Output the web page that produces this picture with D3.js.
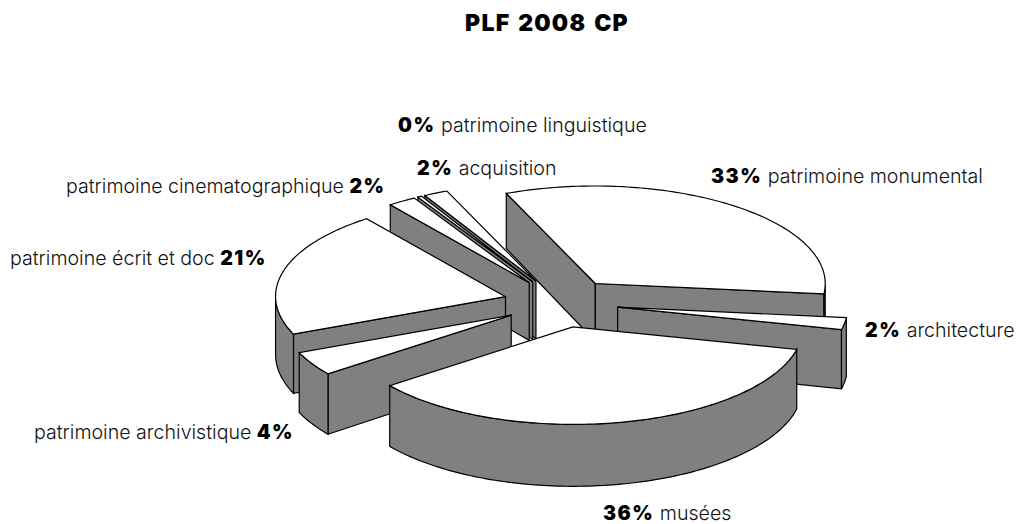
<!DOCTYPE html>
<html><head><meta charset="utf-8">
<script src="https://cdn.jsdelivr.net/npm/d3@7"></script>
<style>html,body{margin:0;background:#fff}svg{display:block}
text{font-family:Inter,sans-serif;font-weight:300;font-size:19.6px;fill:#111}
.b{font-family:Inter,sans-serif;font-weight:900;fill:#000;letter-spacing:1.5px}
</style></head><body><svg id="c" width="1020" height="524"></svg>
<script>
const titleText = "PLF 2008 CP";
const categories = ["patrimoine monumental","architecture","musées","patrimoine archivistique","patrimoine écrit et doc","patrimoine cinematographique","patrimoine linguistique","acquisition"];
const shares = [33,2,36,4,21,2,0.3,1.7];
const labelPos = [[711,183,"pf"],[865,337,"pf"],[603,520,"pf"],[34,439,"fp"],[10,265,"fp"],[66,193,"fp"],[398,132,"pf"],[417,175,"pf"]];

const svg = d3.select("#c");
const W="#fff", G="#808080", K="#000";
const P=[-89,-90], Q=[212,-37.5], C=[561,303], explode=0.25;
const dir=a=>[P[0]*Math.cos(a)+Q[0]*Math.sin(a), P[1]*Math.cos(a)+Q[1]*Math.sin(a)];
const depth=y=>55+0.03*(y-193);
const arcs=d3.pie().sort(null).value(d=>d).startAngle(0).endAngle(2*Math.PI)(shares);
const prisms=arcs.map(d=>{
  const m=dir((d.startAngle+d.endAngle)/2);
  const apex=[C[0]+explode*m[0],C[1]+explode*m[1]];
  const n=Math.max(2,Math.ceil((d.endAngle-d.startAngle)/0.02));
  const rim=d3.range(n+1).map(i=>{const a=d.startAngle+(d.endAngle-d.startAngle)*i/n,v=dir(a);return [apex[0]+v[0],apex[1]+v[1]];});
  return {apex,rim,my:m[1]};
}).sort((a,b)=>a.my-b.my);
const line=d3.line();
const low=p=>[p[0],p[1]+depth(p[1])];
const wall=pts=>pts.concat(pts.slice().reverse().map(low));
const g=svg.append("g").attr("stroke",K).attr("stroke-width",1.2).attr("stroke-linejoin","miter");
prisms.forEach(s=>{
  const A=s.rim[0],B=s.rim[s.rim.length-1];
  if(A[0]<s.apex[0]) g.append("path").attr("d",line(wall([s.apex,A]))+"Z").attr("fill",G);
  if(s.apex[0]<B[0]) g.append("path").attr("d",line(wall([B,s.apex]))+"Z").attr("fill",G);
  let run=[];
  const flush=()=>{if(run.length>1)g.append("path").attr("d",line(wall(run))+"Z").attr("fill",G);run=[];};
  for(let i=1;i<s.rim.length;i++){
    if(s.rim[i][0]<s.rim[i-1][0]){ if(!run.length)run.push(s.rim[i-1]); run.push(s.rim[i]); } else flush();
  }
  flush();
  g.append("path").attr("d",line([s.apex,...s.rim])+"Z").attr("fill",W);
});
svg.append("text").attr("class","b").attr("x",547).attr("y",30.5).attr("text-anchor","middle").style("font-size","23px").style("letter-spacing","1.25px").style("word-spacing","2px").text(titleText);
categories.forEach((c,i)=>{
  const [x,y,o]=labelPos[i];
  const pct=Math.round(shares[i])+"%";
  const t=svg.append("text").attr("x",x).attr("y",y);
  if(o==="pf"){t.append("tspan").attr("class","b").text(pct);t.append("tspan").text(" "+c);}
  else{t.append("tspan").text(c+" ");t.append("tspan").attr("class","b").text(pct);}
});
</script></body></html>
